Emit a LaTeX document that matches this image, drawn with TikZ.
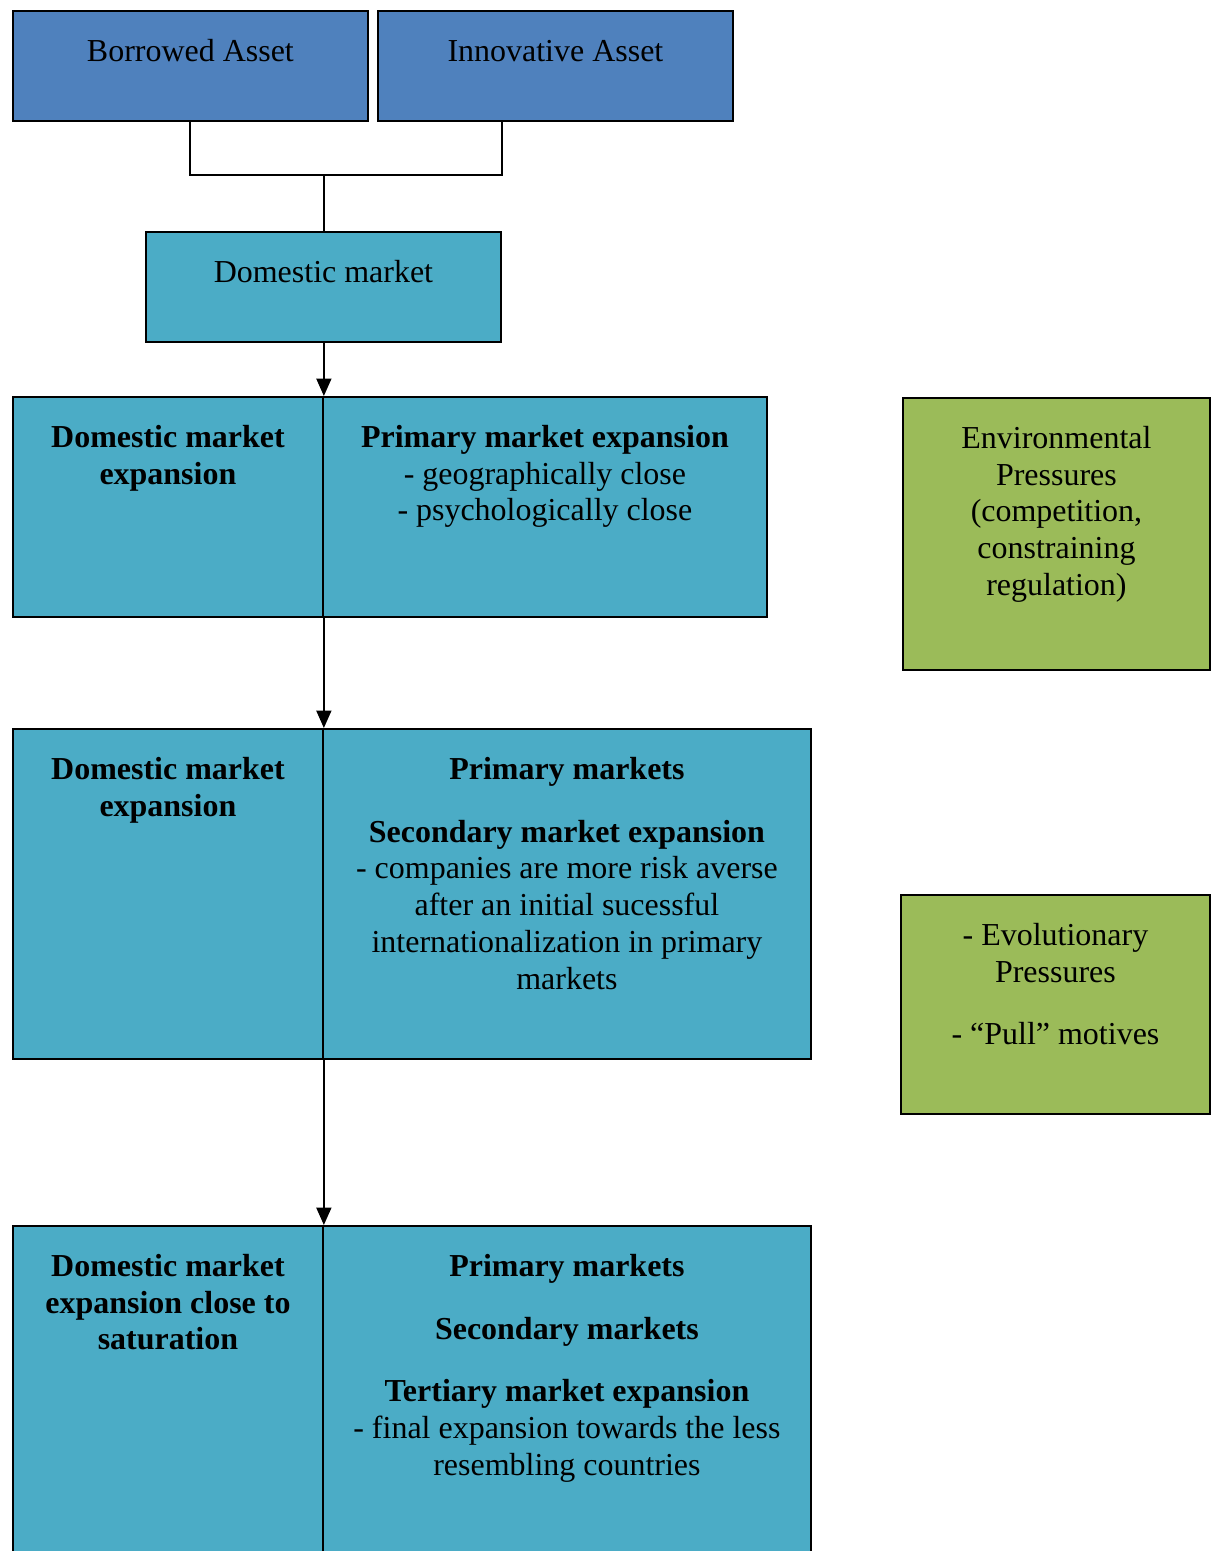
\documentclass[tikz,border=0pt]{standalone}
\usepackage{fontspec}
\setmainfont{Liberation Serif}
\usetikzlibrary{arrows.meta}
\definecolor{assetblue}{RGB}{79,129,189}
\definecolor{marketteal}{RGB}{75,172,198}
\definecolor{pressgreen}{RGB}{155,187,89}
\begin{document}
\begin{tikzpicture}[x=0.02cm,y=-0.02cm,
    every node/.style={font=\fontsize{18.2}{21}\selectfont},
    box/.style={draw,line width=1.1pt,anchor=north west,inner sep=0pt},
    txt/.style={anchor=north,align=center,inner sep=0pt},
    link/.style={line width=1.1pt},
    flow/.style={line width=1.1pt,-{Triangle[length=0.35cm,width=0.3cm]}}]
      \useasboundingbox (0,0) rectangle (1211,1551);
      \clip (0,0) rectangle (1211,1551);
      % assets
      \node[box,fill=assetblue,minimum width=7.1cm,minimum height=2.2cm] (borrowed) at (12,10) {};
      \node[box,fill=assetblue,minimum width=7.1cm,minimum height=2.2cm] (innov) at (377,10) {};
      \node[box,fill=marketteal,minimum width=7.1cm,minimum height=2.2cm] (dom) at (145,231) {};
      % expansion stages
      \node[box,fill=marketteal,minimum width=6.2cm,minimum height=4.4cm] (exp1l) at (12,396) {};
      \node[box,fill=marketteal,minimum width=8.88cm,minimum height=4.4cm] (exp1r) at (322,396) {};
      \node[box,fill=marketteal,minimum width=6.2cm,minimum height=6.6cm] (exp2l) at (12,728) {};
      \node[box,fill=marketteal,minimum width=9.76cm,minimum height=6.6cm] (exp2r) at (322,728) {};
      \node[box,fill=marketteal,minimum width=6.2cm,minimum height=6.8cm] (exp3l) at (12,1225) {};
      \node[box,fill=marketteal,minimum width=9.76cm,minimum height=6.8cm] (exp3r) at (322,1225) {};
      % pressures
      \node[box,fill=pressgreen,minimum width=6.14cm,minimum height=5.44cm] (env) at (902,397) {};
      \node[box,fill=pressgreen,minimum width=6.18cm,minimum height=4.38cm] (evo) at (900,894) {};
      % texts
      \node[txt] (tborrowed) at ([yshift=-0.5cm]borrowed.north) {\strut Borrowed Asset};
      \node[txt] (tinnov) at ([yshift=-0.5cm]innov.north) {\strut Innovative Asset};
      \node[txt] (tdom) at ([yshift=-0.5cm]dom.north) {\strut Domestic market};
      \node[txt] (texp1l) at ([yshift=-0.5cm]exp1l.north) {\strut\textbf{Domestic market}\\\textbf{expansion}};
      \node[txt] (texp1r) at ([yshift=-0.5cm]exp1r.north)
        {\strut\textbf{Primary market expansion}\\- geographically close\\- psychologically close};
      \node[txt] (texp2l) at ([yshift=-0.5cm]exp2l.north) {\strut\textbf{Domestic market}\\\textbf{expansion}};
      \node[txt] (texp2r) at ([yshift=-0.5cm]exp2r.north)
        {\strut\textbf{Primary markets}\\[0.52cm]\textbf{Secondary market expansion}\\
         - companies are more risk averse\\after an initial sucessful\\
         internationalization in primary\\markets};
      \node[txt] (texp3l) at ([yshift=-0.5cm]exp3l.north)
        {\strut\textbf{Domestic market}\\\textbf{expansion close to}\\\textbf{saturation}};
      \node[txt] (texp3r) at ([yshift=-0.5cm]exp3r.north)
        {\strut\textbf{Primary markets}\\[0.52cm]\textbf{Secondary markets}\\[0.52cm]
         \textbf{Tertiary market expansion}\\- final expansion towards the less\\resembling countries};
      \node[txt] (tenv) at ([yshift=-0.5cm]env.north)
        {\strut Environmental\\Pressures\\(competition,\\constraining\\regulation)};
      \node[txt] (tevo) at ([yshift=-0.5cm]evo.north)
        {\strut- Evolutionary\\Pressures\\[0.52cm]- “Pull” motives};
      % connectors
      \coordinate (bar) at (0,175);
      \coordinate (join) at (exp1l.north east |- bar);
      \draw[link] (borrowed.south) |- (join);
      \draw[link] (join) -| (innov.south -| dom.east);
      \draw[link] (join) -- (join |- dom.north);
      \draw[flow] (dom.south -| join) -- (exp1l.north east);
      \draw[flow] (exp1l.south east) -- (exp2l.north east);
      \draw[flow] (exp2l.south east) -- (exp3l.north east);
    \end{tikzpicture}
\end{document}
